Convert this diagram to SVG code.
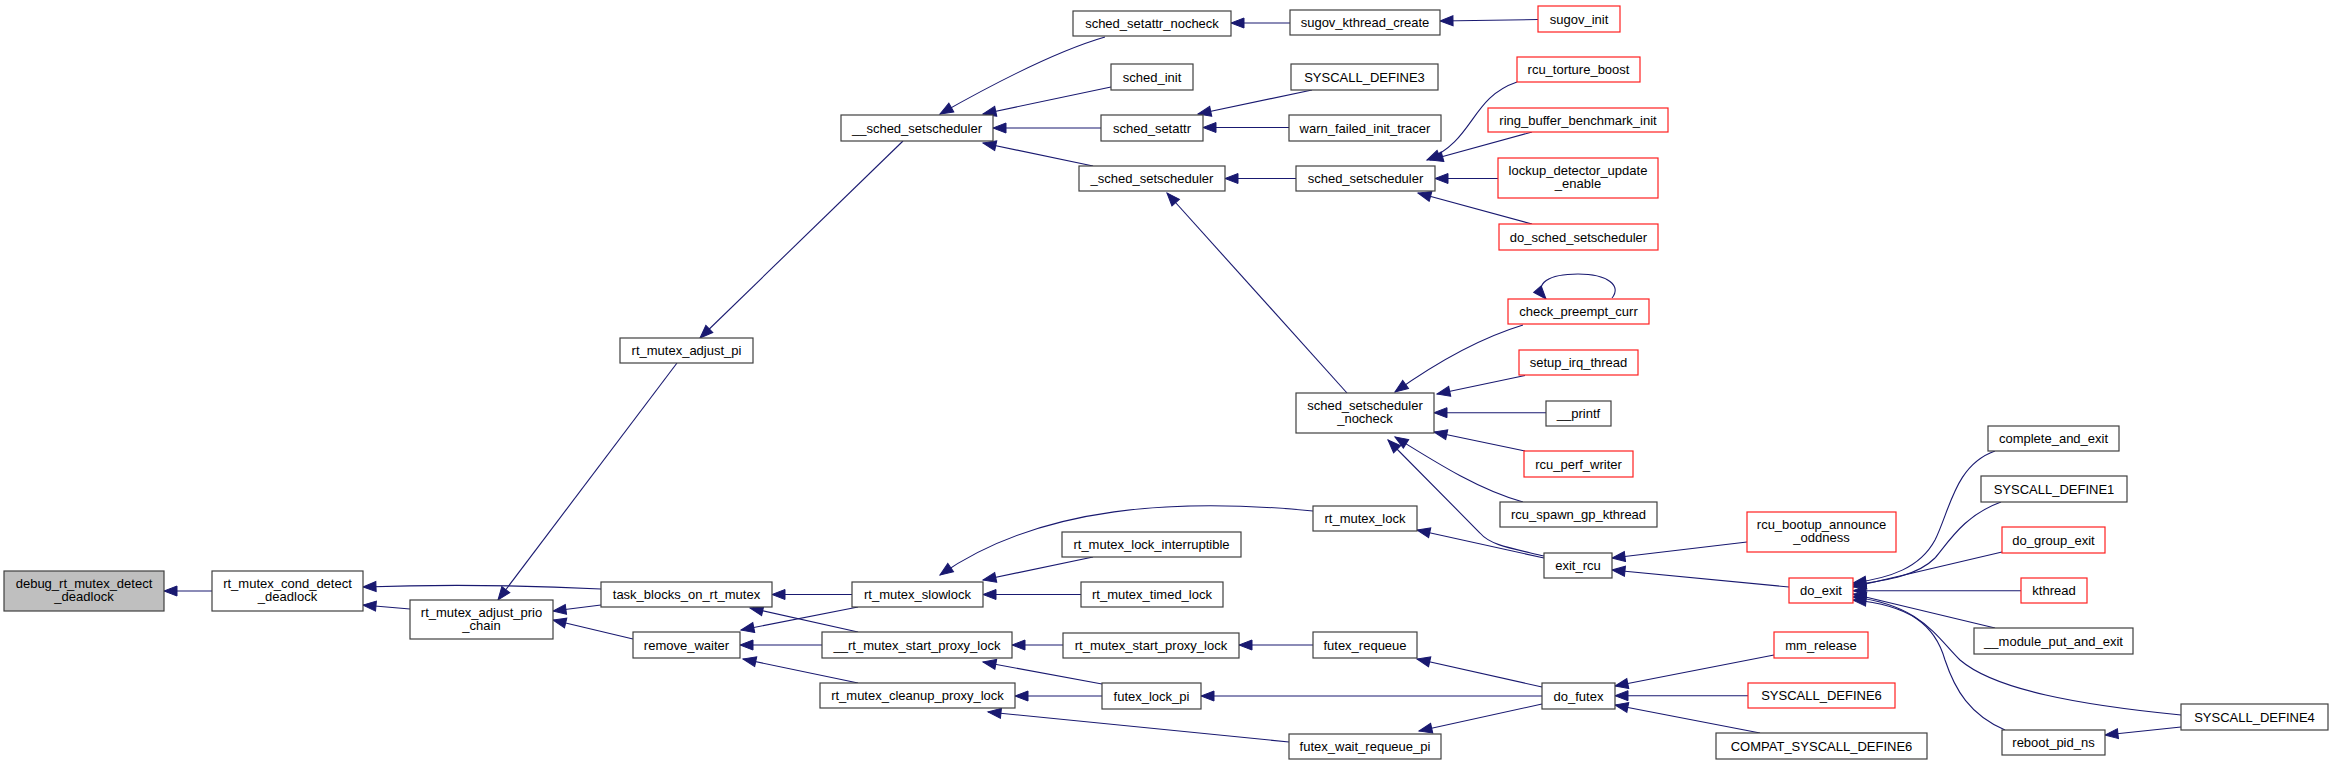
<svg xmlns="http://www.w3.org/2000/svg" width="2333" height="765" viewBox="0 0 2333 765">
<style>
.n rect{fill:#fff;stroke:#404040;stroke-width:1.2}
.r rect{stroke:#ff2020}
.g rect{fill:#bfbfbf}
text{font-family:"Liberation Sans",Arial,sans-serif;font-size:13px;text-anchor:middle;fill:#000}
.e path{fill:none;stroke:#191970;stroke-width:1.1;marker-end:url(#a)}
</style>
<defs>
<marker id="a" markerUnits="userSpaceOnUse" markerWidth="14" markerHeight="11" refX="13" refY="5" orient="auto" overflow="visible">
<path d="M0,0 L13,5 L0,10 z" fill="#191970" stroke="#191970" stroke-width="1"/>
</marker>
</defs>
<rect width="2333" height="765" fill="#fff"/>
<g id="connectors" class="e">
<path d="M212,591 L164,591"/>
<path d="M601,589 C540,586 450,584 363,587"/>
<path d="M410,609 L363,605"/>
<path d="M601,605 L553,611"/>
<path d="M633,639 L553,620"/>
<path d="M677,363 L498,600"/>
<path d="M852,594.5 L772,594.5"/>
<path d="M858,632 L750,608"/>
<path d="M858,607 L741,630"/>
<path d="M822,645 L740,645"/>
<path d="M858,683 L743,659"/>
<path d="M903,141 L700,338"/>
<path d="M1105,37 C1060,50 1000,80 940,114"/>
<path d="M1111,87 L983,114"/>
<path d="M1101,128 L993,128"/>
<path d="M1093,166 L983,143"/>
<path d="M1313,511 C1180,498 1040,505 940,575"/>
<path d="M1093,557 L983,580"/>
<path d="M1081,594.5 L983,594.5"/>
<path d="M1063,645 L1012,645"/>
<path d="M1102,684 L983,662"/>
<path d="M1102,696 L1015,696"/>
<path d="M1289,742 L988,712"/>
<path d="M1290,23 L1231,23"/>
<path d="M1538,19.5 L1440,21"/>
<path d="M1312,90 L1198,114"/>
<path d="M1289,127.5 L1203,127.5"/>
<path d="M1296,178.5 L1225,178.5"/>
<path d="M1347,393 L1167,193"/>
<path d="M1517,82 C1470,98 1475,140 1427,160"/>
<path d="M1532,132 L1430,160"/>
<path d="M1498,178.5 L1435,178.5"/>
<path d="M1532,224 L1418,193"/>
<path d="M1523,325 C1480,338 1440,360 1395,392"/>
<path d="M1612,298 C1622,286 1608,274 1578,274 C1550,274 1532,283 1546,299"/>
<path d="M1525,375.5 L1437,394"/>
<path d="M1546,412.7 L1434,412.7"/>
<path d="M1525,451 L1434,432"/>
<path d="M1523,502 C1480,490 1440,465 1395,437"/>
<path d="M1544,556 C1510,548 1490,545 1480,533 L1388,440"/>
<path d="M1544,558 L1417,530"/>
<path d="M1747,542 L1612,558"/>
<path d="M1789,587 L1612,570"/>
<path d="M1313,645 L1239,645"/>
<path d="M1542,687 L1417,659"/>
<path d="M1542,696 L1201,696"/>
<path d="M1542,704 L1419,731"/>
<path d="M1774,655 L1615,686"/>
<path d="M1748,695.7 L1615,695.7"/>
<path d="M1760,733 L1615,705"/>
<path d="M1995,451 C1955,465 1950,510 1935,540 C1920,568 1890,578 1853,583"/>
<path d="M2001,502 C1965,515 1950,540 1935,558 C1918,575 1890,580 1853,585"/>
<path d="M2002,552 L1853,587"/>
<path d="M2021,590.7 L1853,590.7"/>
<path d="M1995,628 L1853,594"/>
<path d="M2181,715 C2080,705 1995,690 1960,660 C1935,635 1920,605 1853,597"/>
<path d="M2005,730 C1970,715 1955,690 1945,660 C1935,625 1910,605 1853,600"/>
<path d="M2181,727 L2105,735"/>
</g>
<g id="debug_rt_mutex_detect_deadlock" class="n g"><rect x="4" y="571" width="160" height="40"/><text x="84" y="587.5">debug_rt_mutex_detect</text><text x="84" y="601">_deadlock</text></g>
<g id="rt_mutex_cond_detect_deadlock" class="n"><rect x="212" y="571" width="151" height="40"/><text x="287.5" y="587.5">rt_mutex_cond_detect</text><text x="287.5" y="601">_deadlock</text></g>
<g id="rt_mutex_adjust_prio_chain" class="n"><rect x="410" y="600" width="143" height="39"/><text x="481.5" y="616.5">rt_mutex_adjust_prio</text><text x="481.5" y="630">_chain</text></g>
<g id="rt_mutex_adjust_pi" class="n"><rect x="620" y="338" width="133" height="25"/><text x="686.5" y="355">rt_mutex_adjust_pi</text></g>
<g id="task_blocks_on_rt_mutex" class="n"><rect x="601" y="582" width="171" height="25"/><text x="686.5" y="599">task_blocks_on_rt_mutex</text></g>
<g id="remove_waiter" class="n"><rect x="633" y="632" width="107" height="26"/><text x="686.5" y="649.5">remove_waiter</text></g>
<g id="__sched_setscheduler" class="n"><rect x="841" y="115" width="152" height="26"/><text x="917" y="132.5">__sched_setscheduler</text></g>
<g id="rt_mutex_slowlock" class="n"><rect x="852" y="582" width="131" height="25"/><text x="917.5" y="599">rt_mutex_slowlock</text></g>
<g id="__rt_mutex_start_proxy_lock" class="n"><rect x="822" y="632" width="190" height="26"/><text x="917" y="649.5">__rt_mutex_start_proxy_lock</text></g>
<g id="rt_mutex_cleanup_proxy_lock" class="n"><rect x="820" y="683" width="195" height="25"/><text x="917.5" y="700">rt_mutex_cleanup_proxy_lock</text></g>
<g id="sched_setattr_nocheck" class="n"><rect x="1073" y="11" width="158" height="25"/><text x="1152" y="28">sched_setattr_nocheck</text></g>
<g id="sched_init" class="n"><rect x="1111" y="64" width="82" height="26"/><text x="1152" y="81.5">sched_init</text></g>
<g id="sched_setattr" class="n"><rect x="1101" y="115" width="102" height="26"/><text x="1152" y="132.5">sched_setattr</text></g>
<g id="_sched_setscheduler" class="n"><rect x="1079" y="166" width="146" height="25"/><text x="1152" y="183">_sched_setscheduler</text></g>
<g id="rt_mutex_lock_interruptible" class="n"><rect x="1062" y="532" width="179" height="25"/><text x="1151.5" y="549">rt_mutex_lock_interruptible</text></g>
<g id="rt_mutex_timed_lock" class="n"><rect x="1081" y="582" width="142" height="25"/><text x="1152" y="599">rt_mutex_timed_lock</text></g>
<g id="rt_mutex_start_proxy_lock" class="n"><rect x="1063" y="633" width="176" height="25"/><text x="1151" y="650">rt_mutex_start_proxy_lock</text></g>
<g id="futex_lock_pi" class="n"><rect x="1102" y="683" width="99" height="26"/><text x="1151.5" y="700.5">futex_lock_pi</text></g>
<g id="sugov_kthread_create" class="n"><rect x="1290" y="10" width="150" height="25"/><text x="1365" y="27">sugov_kthread_create</text></g>
<g id="SYSCALL_DEFINE3" class="n"><rect x="1291" y="64" width="147" height="26"/><text x="1364.5" y="81.5">SYSCALL_DEFINE3</text></g>
<g id="warn_failed_init_tracer" class="n"><rect x="1289" y="115" width="152" height="26"/><text x="1365" y="132.5">warn_failed_init_tracer</text></g>
<g id="sched_setscheduler" class="n"><rect x="1296" y="166" width="139" height="25"/><text x="1365.5" y="183">sched_setscheduler</text></g>
<g id="sched_setscheduler_nocheck" class="n"><rect x="1296" y="393" width="138" height="40"/><text x="1365" y="409.5">sched_setscheduler</text><text x="1365" y="423">_nocheck</text></g>
<g id="rt_mutex_lock" class="n"><rect x="1313" y="506" width="104" height="25"/><text x="1365" y="523">rt_mutex_lock</text></g>
<g id="futex_requeue" class="n"><rect x="1313" y="632" width="104" height="26"/><text x="1365" y="649.5">futex_requeue</text></g>
<g id="futex_wait_requeue_pi" class="n"><rect x="1289" y="734" width="152" height="25"/><text x="1365" y="751">futex_wait_requeue_pi</text></g>
<g id="sugov_init" class="n r"><rect x="1538" y="6" width="82" height="26"/><text x="1579" y="23.5">sugov_init</text></g>
<g id="rcu_torture_boost" class="n r"><rect x="1517" y="57" width="123" height="25"/><text x="1578.5" y="74">rcu_torture_boost</text></g>
<g id="ring_buffer_benchmark_init" class="n r"><rect x="1488" y="108" width="180" height="24"/><text x="1578" y="124.5">ring_buffer_benchmark_init</text></g>
<g id="lockup_detector_update_enable" class="n r"><rect x="1498" y="158" width="160" height="40"/><text x="1578" y="174.5">lockup_detector_update</text><text x="1578" y="188">_enable</text></g>
<g id="do_sched_setscheduler" class="n r"><rect x="1499" y="224" width="159" height="26"/><text x="1578.5" y="241.5">do_sched_setscheduler</text></g>
<g id="check_preempt_curr" class="n r"><rect x="1508" y="299" width="141" height="25"/><text x="1578.5" y="316">check_preempt_curr</text></g>
<g id="setup_irq_thread" class="n r"><rect x="1519" y="350" width="119" height="25"/><text x="1578.5" y="367">setup_irq_thread</text></g>
<g id="__printf" class="n"><rect x="1546" y="401" width="65" height="25"/><text x="1578.5" y="418">__printf</text></g>
<g id="rcu_perf_writer" class="n r"><rect x="1524" y="451" width="109" height="26"/><text x="1578.5" y="468.5">rcu_perf_writer</text></g>
<g id="rcu_spawn_gp_kthread" class="n"><rect x="1500" y="502" width="157" height="25"/><text x="1578.5" y="519">rcu_spawn_gp_kthread</text></g>
<g id="exit_rcu" class="n"><rect x="1544" y="553" width="68" height="25"/><text x="1578" y="570">exit_rcu</text></g>
<g id="do_futex" class="n"><rect x="1542" y="683" width="73" height="26"/><text x="1578.5" y="700.5">do_futex</text></g>
<g id="rcu_bootup_announce_oddness" class="n r"><rect x="1747" y="512" width="149" height="40"/><text x="1821.5" y="528.5">rcu_bootup_announce</text><text x="1821.5" y="542">_oddness</text></g>
<g id="do_exit" class="n r"><rect x="1789" y="578" width="64" height="25"/><text x="1821" y="595">do_exit</text></g>
<g id="mm_release" class="n r"><rect x="1774" y="632" width="94" height="26"/><text x="1821" y="649.5">mm_release</text></g>
<g id="SYSCALL_DEFINE6" class="n r"><rect x="1748" y="683" width="147" height="25"/><text x="1821.5" y="700">SYSCALL_DEFINE6</text></g>
<g id="COMPAT_SYSCALL_DEFINE6" class="n"><rect x="1716" y="733" width="211" height="26"/><text x="1821.5" y="750.5">COMPAT_SYSCALL_DEFINE6</text></g>
<g id="complete_and_exit" class="n"><rect x="1988" y="426" width="131" height="25"/><text x="2053.5" y="443">complete_and_exit</text></g>
<g id="SYSCALL_DEFINE1" class="n"><rect x="1981" y="476" width="146" height="26"/><text x="2054" y="493.5">SYSCALL_DEFINE1</text></g>
<g id="do_group_exit" class="n r"><rect x="2002" y="527" width="103" height="26"/><text x="2053.5" y="544.5">do_group_exit</text></g>
<g id="kthread" class="n r"><rect x="2021" y="578" width="66" height="25"/><text x="2054" y="595">kthread</text></g>
<g id="__module_put_and_exit" class="n"><rect x="1974" y="628" width="159" height="26"/><text x="2053.5" y="645.5">__module_put_and_exit</text></g>
<g id="SYSCALL_DEFINE4" class="n"><rect x="2181" y="704" width="147" height="26"/><text x="2254.5" y="721.5">SYSCALL_DEFINE4</text></g>
<g id="reboot_pid_ns" class="n"><rect x="2002" y="730" width="103" height="25"/><text x="2053.5" y="747">reboot_pid_ns</text></g>
</svg>
